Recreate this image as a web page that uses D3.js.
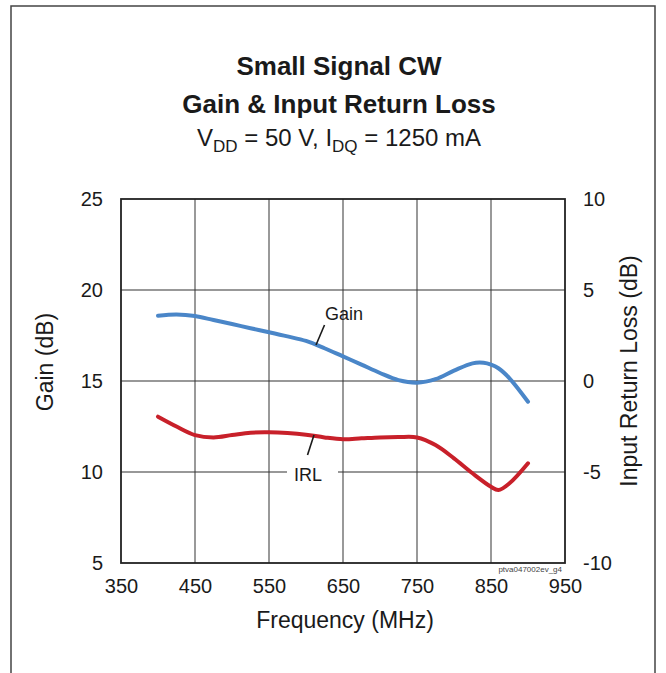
<!DOCTYPE html>
<html>
<head>
<meta charset="utf-8">
<script src="https://cdn.jsdelivr.net/npm/d3@7/dist/d3.min.js"></script>
<style>
html,body{margin:0;padding:0;background:#fff;}
svg{display:block;font-family:"Liberation Sans",Arial,sans-serif;}
</style>
</head>
<body>
<svg id="chart" width="666" height="673"></svg>
<script>
const freq = [400,425,450,475,500,525,550,575,600,625,650,675,700,725,750,775,800,825,840,850,860,875,900];
const gain = [18.58,18.65,18.57,18.35,18.13,17.9,17.68,17.45,17.2,16.8,16.35,15.9,15.44,15.05,14.91,15.1,15.57,15.97,16.0,15.9,15.7,15.15,13.86];
const irlFreq = [400,425,450,475,500,525,550,575,600,625,650,675,700,725,750,775,800,825,850,860,875,900];
const irl = [-1.96,-2.5,-2.97,-3.1,-2.97,-2.84,-2.82,-2.86,-2.95,-3.1,-3.2,-3.15,-3.1,-3.08,-3.1,-3.52,-4.25,-5.07,-5.81,-5.99,-5.62,-4.52];
const xTicks = [350,450,550,650,750,850,950];
const yLeftTicks = [5,10,15,20,25];
const yRightTicks = [-10,-5,0,5,10];

const svg = d3.select("#chart");
const L = 121, R = 565, T = 199, B = 563;
const x = d3.scaleLinear().domain([350,950]).range([L,R]);
const yL = d3.scaleLinear().domain([5,25]).range([B,T]);
const yR = d3.scaleLinear().domain([-10,10]).range([B,T]);

// outer frame
svg.append("path").attr("d","M11,680 V6 H655 V680").attr("fill","none").attr("stroke","#444").attr("stroke-width",1.5);

// titles
svg.append("text").attr("x",339).attr("y",75).attr("text-anchor","middle").attr("font-weight","bold").attr("font-size",26).attr("fill","#1a1a1a").text("Small Signal CW");
svg.append("text").attr("x",339).attr("y",113).attr("text-anchor","middle").attr("font-weight","bold").attr("font-size",26).attr("fill","#1a1a1a").text("Gain & Input Return Loss");
const sub = svg.append("text").attr("x",339).attr("y",146).attr("text-anchor","middle").attr("font-size",24).attr("fill","#1a1a1a");
sub.append("tspan").text("V");
sub.append("tspan").attr("font-size",17).attr("dy",6).text("DD");
sub.append("tspan").attr("dy",-6).text(" = 50 V, I");
sub.append("tspan").attr("font-size",17).attr("dy",6).text("DQ");
sub.append("tspan").attr("dy",-6).text(" = 1250 mA");

// grid
const g = svg.append("g");
g.selectAll(".vg").data(xTicks.slice(1,-1)).join("line")
  .attr("x1",d=>x(d)).attr("x2",d=>x(d)).attr("y1",T).attr("y2",B)
  .attr("stroke","#555").attr("stroke-width",1.2);
g.selectAll(".hg").data(yLeftTicks.slice(1,-1)).join("line")
  .attr("x1",L).attr("x2",R).attr("y1",d=>yL(d)).attr("y2",d=>yL(d))
  .attr("stroke","#333").attr("stroke-width",1.2);
g.append("rect").attr("x",L).attr("y",T).attr("width",R-L).attr("height",B-T)
  .attr("fill","none").attr("stroke","#222").attr("stroke-width",1.8);

// axes labels via d3 axes (no lines)
const axB = svg.append("g").attr("transform",`translate(0,${B})`)
  .call(d3.axisBottom(x).tickValues(xTicks).tickSize(0).tickPadding(16).tickFormat(d3.format("d")));
const axL = svg.append("g").attr("transform",`translate(${L},0)`)
  .call(d3.axisLeft(yL).tickValues(yLeftTicks).tickSize(0).tickPadding(18).tickFormat(d3.format("d")));
const axR = svg.append("g").attr("transform",`translate(${R},0)`)
  .call(d3.axisRight(yR).tickValues(yRightTicks).tickSize(0).tickPadding(18).tickFormat(d=>d<0?"-"+Math.abs(d):d));
[axB,axL,axR].forEach(a=>{
  a.select(".domain").remove();
  a.selectAll("text").attr("font-size",20).attr("fill","#1a1a1a").attr("font-family","Liberation Sans, Arial, sans-serif");
});

// axis titles
svg.append("text").attr("x",345).attr("y",628).attr("text-anchor","middle").attr("font-size",23).attr("fill","#1a1a1a").text("Frequency (MHz)");
svg.append("text").attr("transform","translate(53,362) rotate(-90)").attr("text-anchor","middle").attr("font-size",23).attr("fill","#1a1a1a").text("Gain (dB)");
svg.append("text").attr("transform","translate(637,371) rotate(-90)").attr("text-anchor","middle").attr("font-size",23).attr("fill","#1a1a1a").text("Input Return Loss (dB)");

// footnote
svg.append("text").attr("x",562).attr("y",572).attr("text-anchor","end").attr("font-size",8).attr("fill","#444").text("ptva047002ev_g4");

// curves
const lineG = d3.line().x((d,i)=>x(freq[i])).y(d=>yL(d)).curve(d3.curveCatmullRom.alpha(0.5));
const lineI = d3.line().x((d,i)=>x(irlFreq[i])).y(d=>yR(d)).curve(d3.curveCatmullRom.alpha(0.5));
svg.append("path").datum(gain).attr("d",lineG).attr("fill","none").attr("stroke","#4a86c8").attr("stroke-width",4).attr("stroke-linecap","round");
svg.append("path").datum(irl).attr("d",lineI).attr("fill","none").attr("stroke","#c8202a").attr("stroke-width",4).attr("stroke-linecap","round");

// series labels
svg.append("line").attr("x1",324.5).attr("y1",325).attr("x2",316).attr("y2",345).attr("stroke","#1a1a1a").attr("stroke-width",1.6);
svg.append("text").attr("x",325).attr("y",320).attr("font-size",18).attr("fill","#1a1a1a").text("Gain");
svg.append("line").attr("x1",314).attr("y1",435).attr("x2",307.5).attr("y2",455).attr("stroke","#1a1a1a").attr("stroke-width",1.6);
svg.append("rect").attr("x",287).attr("y",468).attr("width",51).attr("height",8).attr("fill","#fff");
svg.append("text").attr("x",294).attr("y",481).attr("font-size",18).attr("fill","#1a1a1a").text("IRL");
</script>
</body>
</html>
